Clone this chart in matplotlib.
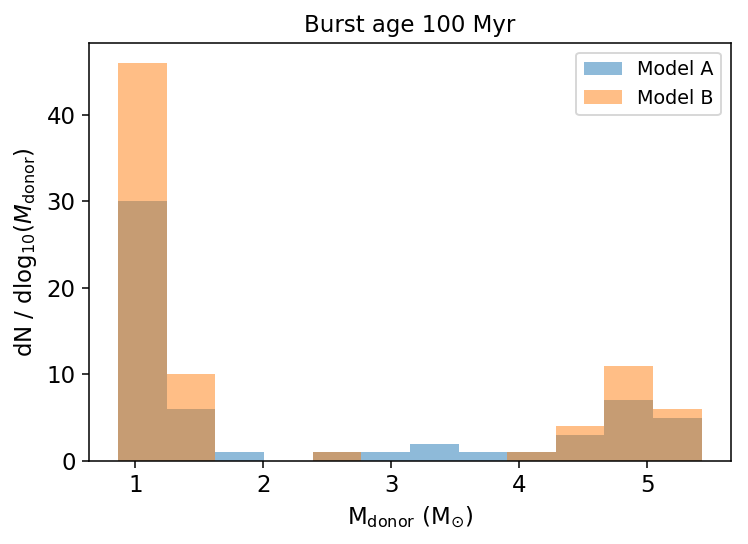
import numpy as np
import matplotlib
matplotlib.use("Agg")
import matplotlib.pyplot as plt

# Bin edges (M_donor, Msun) and counts per bin
bin_edges = [0.865, 1.245, 1.625, 2.005, 2.385, 2.765, 3.145, 3.525, 3.905, 4.285, 4.665, 5.045, 5.425]
model_a = [30, 6, 1, 0, 1, 1, 2, 1, 1, 3, 7, 5]
model_b = [46, 10, 0, 0, 1, 0, 0, 0, 1, 4, 11, 6]

edges = np.array(bin_edges)
centers = 0.5 * (edges[:-1] + edges[1:])

DPI = 137.5
fig = plt.figure(figsize=(748 / DPI, 544 / DPI), dpi=DPI)
ax = fig.add_axes([0.119, 0.1526, 0.858, 0.7684])

ax.hist(centers, bins=edges, weights=model_a, alpha=0.5, label='Model A')
ax.hist(centers, bins=edges, weights=model_b, alpha=0.5, label='Model B')

ax.set_xticks([1, 2, 3, 4, 5])
ax.set_yticks([0, 10, 20, 30, 40])
ax.tick_params(labelsize=12)
ax.set_xlabel(r'M$_{\rm donor}$ (M$_{\odot}$)', fontsize=12)
ax.set_ylabel(r'dN / dlog$_{10}$($M_{\rm donor}$)', fontsize=12)
ax.set_title('Burst age 100 Myr', fontsize=12)
ax.legend(loc='upper right', fontsize=10)

fig.savefig('out.png', dpi=DPI)
